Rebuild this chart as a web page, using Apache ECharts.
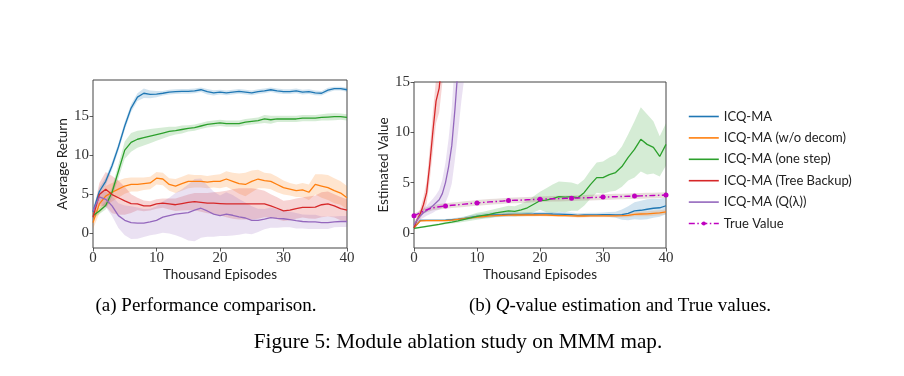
<!DOCTYPE html>
<html>
<head>
<meta charset="utf-8">
<title>Module ablation study on MMM map</title>
<script src="https://cdn.jsdelivr.net/npm/echarts@6/dist/echarts.min.js"></script>
<style>
html, body { margin: 0; padding: 0; background: #fff; }
#chart { width: 904px; height: 376px; }
</style>
</head>
<body>
<div id="chart"></div>
<script>
// x positions, thousand episodes
var episodes = [0, 1, 2, 3, 4, 5, 6, 7, 8, 9, 10, 11, 12, 13, 14, 15, 16, 17, 18, 19, 20,
                21, 22, 23, 24, 25, 26, 27, 28, 29, 30, 31, 32, 33, 34, 35, 36, 37, 38, 39, 40];
var yTicks = [0, 5, 10, 15];

var names = ['ICQ-MA', 'ICQ-MA (w/o decom)', 'ICQ-MA (one step)', 'ICQ-MA (Tree Backup)', 'ICQ-MA (Q(\u03bb))', 'True Value'];

// (a) average return, mean and spread
var retMA = [2.7, 5.3, 6.6, 8.6, 11.0, 13.7, 16.0, 17.4, 17.9, 17.75, 17.8, 17.9, 18.05, 18.1, 18.15, 18.15, 18.2, 18.35, 18.1, 17.95, 18.05,
             17.95, 18.05, 18.15, 18.05, 17.95, 18.1, 18.2, 18.35, 18.2, 18.1, 18.1, 18.2, 18.05, 18.1, 17.95, 17.9, 18.3, 18.5, 18.5, 18.35];
var retMASd = [0.4, 0.5, 0.5, 0.5, 0.5, 0.5, 0.5, 0.5, 0.6, 0.5, 0.4, 0.3, 0.3, 0.3, 0.3, 0.3, 0.3, 0.3, 0.35, 0.35, 0.3,
               0.3, 0.3, 0.3, 0.3, 0.3, 0.3, 0.3, 0.3, 0.3, 0.3, 0.3, 0.3, 0.3, 0.3, 0.3, 0.3, 0.3, 0.25, 0.25, 0.25];
var retNoDecom = [1.3, 3.7, 4.7, 5.2, 5.6, 6.0, 6.2, 6.2, 6.3, 6.4, 7.0, 6.9, 6.2, 6.0, 6.3, 6.6, 6.6, 6.6, 6.5, 6.6, 6.6,
                  6.9, 6.6, 6.3, 6.2, 6.6, 6.9, 6.7, 6.6, 6.2, 5.8, 5.6, 5.4, 5.5, 5.2, 6.2, 6.0, 5.8, 5.4, 5.1, 4.5];
var retNoDecomSd = [0.8, 1.2, 1.3, 1.2, 1.1, 1.0, 0.9, 0.9, 0.8, 0.8, 0.8, 0.8, 0.8, 0.9, 0.9, 0.9, 0.8, 0.8, 0.8, 0.8, 0.9,
                    1.0, 1.1, 1.3, 1.5, 1.4, 1.2, 1.0, 1.0, 1.0, 0.9, 0.8, 0.8, 0.9, 1.0, 1.3, 1.5, 1.6, 1.6, 1.5, 1.5];
var retOneStep = [2.2, 2.8, 3.5, 5.2, 7.9, 10.6, 11.6, 12.0, 12.2, 12.4, 12.6, 12.8, 13.0, 13.1, 13.25, 13.4, 13.5, 13.7, 13.9, 14.0, 14.1,
                  14.0, 14.0, 14.0, 14.2, 14.3, 14.4, 14.6, 14.5, 14.6, 14.6, 14.6, 14.6, 14.7, 14.7, 14.7, 14.8, 14.85, 14.9, 14.9, 14.8];
var retOneStepSd = [0.4, 0.4, 0.5, 0.6, 0.9, 1.1, 1.2, 1.1, 1.0, 0.9, 0.8, 0.7, 0.6, 0.5, 0.5, 0.4, 0.4, 0.4, 0.4, 0.4, 0.4,
                    0.4, 0.4, 0.4, 0.4, 0.4, 0.4, 0.5, 0.5, 0.4, 0.4, 0.4, 0.4, 0.4, 0.4, 0.4, 0.4, 0.45, 0.45, 0.4, 0.4];
var retTree = [2.0, 4.9, 5.6, 4.9, 4.5, 4.1, 3.75, 3.7, 3.45, 3.45, 3.7, 3.8, 3.7, 3.6, 3.75, 3.9, 4.0, 3.9, 3.8, 3.8, 3.75,
               3.7, 3.7, 3.7, 3.7, 3.7, 3.7, 3.7, 3.45, 3.15, 2.8, 2.9, 3.1, 3.25, 3.25, 3.3, 3.6, 3.7, 3.45, 3.1, 2.9];
var retTreeSd = [0.5, 1.5, 2.2, 2.4, 2.2, 1.8, 1.2, 0.8, 0.7, 0.6, 0.6, 0.6, 0.7, 0.8, 0.9, 1.0, 1.1, 1.2, 1.3, 1.4, 1.5,
                 1.7, 1.9, 2.0, 2.0, 2.0, 1.9, 1.7, 1.5, 1.4, 1.3, 1.3, 1.3, 1.3, 1.4, 1.5, 1.6, 1.6, 1.5, 1.5, 1.4];
var retQLam = [2.8, 4.6, 4.3, 3.45, 2.2, 1.6, 1.3, 1.25, 1.25, 1.4, 1.6, 2.0, 2.2, 2.4, 2.5, 2.6, 2.9, 3.15, 2.8, 2.4, 2.2,
               2.4, 2.25, 2.05, 1.9, 1.6, 1.6, 1.75, 1.95, 1.85, 1.8, 1.7, 1.55, 1.45, 1.4, 1.4, 1.3, 1.3, 1.4, 1.45, 1.45];
var retQLamSd = [0.5, 0.8, 1.0, 1.3, 1.6, 1.9, 2.1, 2.0, 1.8, 1.7, 1.8, 2.0, 2.3, 2.7, 3.1, 3.6, 4.0, 3.8, 3.3, 2.9, 2.6,
                 2.8, 2.6, 2.3, 2.0, 1.8, 1.5, 1.3, 1.3, 1.2, 1.1, 1.0, 1.0, 0.9, 0.9, 0.9, 0.8, 0.8, 0.7, 0.7, 0.7];

// (b) estimated Q value
var qMA = [0.5, 1.25, 1.25, 1.25, 1.25, 1.28, 1.32, 1.38, 1.45, 1.55, 1.65, 1.7, 1.78, 1.8, 1.82, 1.85, 1.85, 1.85, 1.87, 1.88, 1.9,
           1.9, 1.88, 1.87, 1.85, 1.82, 1.75, 1.78, 1.8, 1.8, 1.82, 1.82, 1.8, 1.82, 1.95, 2.2, 2.25, 2.35, 2.45, 2.5, 2.7];
var qMASd = [0.1, 0.1, 0.1, 0.1, 0.1, 0.1, 0.12, 0.15, 0.18, 0.2, 0.22, 0.25, 0.25, 0.25, 0.25, 0.25, 0.22, 0.2, 0.2, 0.2, 0.2,
             0.2, 0.2, 0.2, 0.2, 0.2, 0.2, 0.2, 0.2, 0.2, 0.2, 0.25, 0.3, 0.5, 0.7, 0.85, 0.95, 1.0, 0.95, 0.9, 0.85];
var qNoDecom = [0.5, 1.2, 1.22, 1.22, 1.22, 1.22, 1.28, 1.35, 1.42, 1.5, 1.58, 1.63, 1.7, 1.72, 1.75, 1.77, 1.78, 1.78, 1.78, 1.78, 1.8,
                1.78, 1.75, 1.72, 1.72, 1.7, 1.68, 1.68, 1.7, 1.7, 1.7, 1.7, 1.7, 1.72, 1.75, 1.85, 1.88, 1.9, 1.95, 2.0, 2.1];
var qNoDecomSd = [0.08, 0.08, 0.08, 0.08, 0.08, 0.08, 0.1, 0.1, 0.12, 0.12, 0.15, 0.15, 0.15, 0.15, 0.15, 0.15, 0.15, 0.15, 0.15, 0.15, 0.15,
                  0.15, 0.15, 0.15, 0.15, 0.15, 0.15, 0.15, 0.15, 0.15, 0.15, 0.15, 0.15, 0.18, 0.2, 0.2, 0.22, 0.25, 0.25, 0.25, 0.25];
var qOneStep = [0.45, 0.55, 0.65, 0.75, 0.85, 0.97, 1.08, 1.2, 1.35, 1.5, 1.65, 1.75, 1.85, 2.0, 2.1, 2.2, 2.15, 2.3, 2.5, 2.85, 3.2,
                3.25, 3.4, 3.6, 3.55, 3.6, 3.5, 4.0, 4.8, 5.5, 5.5, 5.8, 6.0, 6.6, 7.5, 8.3, 9.3, 8.8, 8.5, 7.6, 8.8];
var qOneStepSd = [0.08, 0.08, 0.08, 0.1, 0.1, 0.12, 0.15, 0.2, 0.25, 0.3, 0.35, 0.35, 0.4, 0.4, 0.45, 0.5, 0.5, 0.6, 0.7, 0.8, 0.9,
                  1.2, 1.4, 1.5, 1.5, 1.4, 1.3, 1.3, 1.4, 1.5, 1.6, 1.7, 1.8, 2.0, 2.3, 2.8, 3.2, 3.0, 2.6, 2.0, 2.1];
var qTrue = [1.7, 2.0, 2.3, 2.5, 2.6, 2.68, 2.75, 2.8, 2.86, 2.92, 2.98, 3.03, 3.08, 3.12, 3.16, 3.22, 3.24, 3.26, 3.29, 3.32, 3.35,
             3.37, 3.39, 3.41, 3.43, 3.45, 3.47, 3.49, 3.51, 3.53, 3.56, 3.58, 3.6, 3.62, 3.64, 3.66, 3.68, 3.7, 3.72, 3.74, 3.77];
var qTrueSd = [0.2, 0.25, 0.25, 0.25, 0.28, 0.28, 0.28, 0.28, 0.28, 0.28, 0.28, 0.28, 0.28, 0.28, 0.28, 0.28, 0.28, 0.28, 0.28, 0.28, 0.28,
               0.28, 0.28, 0.28, 0.28, 0.28, 0.28, 0.28, 0.28, 0.28, 0.28, 0.28, 0.28, 0.28, 0.28, 0.28, 0.28, 0.28, 0.28, 0.28, 0.28];
// the two diverging runs are read on a finer x grid
var treeX = [0, 0.5, 1, 1.5, 2, 2.5, 3, 3.5, 4, 4.5, 5];
var qTree = [0.5, 1.3, 1.9, 2.8, 4.0, 6.8, 10.1, 13.1, 14.4, 17.5, 20];
var qTreeSd = [0.3, 0.4, 0.5, 0.8, 1.1, 1.6, 2.0, 2.2, 2.4, 2.6, 2.8];
var qlamX = [0, 0.5, 1, 1.5, 2, 2.5, 3, 3.5, 4, 4.5, 5, 5.5, 6, 6.5, 7, 7.5, 8];
var qQLam = [0.8, 1.3, 1.7, 2.0, 2.2, 2.45, 2.7, 3.0, 3.3, 3.9, 5.0, 6.6, 8.7, 12.3, 16.5, 20.5, 24.5];
var qQLamSd = [0.2, 0.3, 0.4, 0.5, 0.5, 0.6, 0.7, 0.8, 1.0, 1.4, 2.0, 2.8, 3.8, 5.0, 6.5, 7.5, 9.0];

var C = ['#1f77b4', '#ff7f0e', '#2ca02c', '#d62728', '#9467bd'];
var BAND = ['rgba(31,119,180,0.2)', 'rgba(255,127,14,0.2)', 'rgba(44,160,44,0.2)', 'rgba(214,39,40,0.2)', 'rgba(148,103,189,0.2)'];
var TRUE_COLOR = '#bf00bf';
var TRUE_BAND = 'rgba(140,86,75,0.2)';
var SANS = 'Lato, "DejaVu Sans", sans-serif';
var SERIF = '"Liberation Serif", serif';
var INK = '#333';

function pairs(xs, ys) {
    return xs.map(function (x, i) { return [x, ys[i]]; });
}

// shaded mean +- spread, drawn as one polygon clipped to the grid
function band(xs, mean, sd, color, k) {
    var rows = xs.map(function (x, i) { return [x, mean[i] - sd[i], mean[i] + sd[i]]; });
    return {
        type: 'custom', xAxisIndex: k, yAxisIndex: k, silent: true, z: 1, clip: true,
        data: rows, encode: { x: 0, y: [1, 2] },
        renderItem: function (params, api) {
            if (params.dataIndex !== 0) return null;
            var top = rows.map(function (r) { return api.coord([r[0], r[2]]); });
            var bot = rows.map(function (r) { return api.coord([r[0], r[1]]); }).reverse();
            var cs = params.coordSys;
            return {
                type: 'polygon', shape: { points: top.concat(bot) }, style: { fill: color },
                clipPath: { type: 'rect', shape: { x: cs.x, y: cs.y, width: cs.width, height: cs.height } }
            };
        }
    };
}

function line(name, xs, ys, color, k) {
    return {
        name: name, type: 'line', xAxisIndex: k, yAxisIndex: k, data: pairs(xs, ys),
        symbol: 'none', lineStyle: { color: color, width: 1.3 }, itemStyle: { color: color }, z: 3
    };
}

function xAxis(k) {
    return {
        type: 'value', gridIndex: k, min: 0, max: 40, interval: 10,
        name: 'Thousand Episodes', nameLocation: 'middle', nameGap: 20,
        nameTextStyle: { fontFamily: SANS, fontSize: 13.5, color: '#222' },
        axisLine: { show: false, onZero: false },
        axisTick: { show: true, length: 3.5, lineStyle: { color: INK, width: 0.8 } },
        axisLabel: { fontFamily: SERIF, fontSize: 15, color: INK, margin: 3 },
        splitLine: { show: false }
    };
}

function yAxis(k, min, max, title) {
    return {
        type: 'value', gridIndex: k, min: min, max: max,
        name: title, nameLocation: 'middle', nameGap: 23,
        nameTextStyle: { fontFamily: SANS, fontSize: 13.5, color: '#222' },
        axisLine: { show: false, onZero: false },
        axisTick: { show: true, length: 3.5, customValues: yTicks, lineStyle: { color: INK, width: 0.8 } },
        axisLabel: { fontFamily: SERIF, fontSize: 15, color: INK, margin: 4, customValues: yTicks },
        splitLine: { show: false }
    };
}

var series = [
    band(episodes, retMA, retMASd, BAND[0], 0),
    band(episodes, retNoDecom, retNoDecomSd, BAND[1], 0),
    band(episodes, retOneStep, retOneStepSd, BAND[2], 0),
    band(episodes, retTree, retTreeSd, BAND[3], 0),
    band(episodes, retQLam, retQLamSd, BAND[4], 0),
    band(episodes, qMA, qMASd, BAND[0], 1),
    band(episodes, qNoDecom, qNoDecomSd, BAND[1], 1),
    band(episodes, qOneStep, qOneStepSd, BAND[2], 1),
    band(treeX, qTree, qTreeSd, BAND[3], 1),
    band(qlamX, qQLam, qQLamSd, BAND[4], 1),
    band(episodes, qTrue, qTrueSd, TRUE_BAND, 1),
    line(names[0], episodes, retMA, C[0], 0),
    line(names[1], episodes, retNoDecom, C[1], 0),
    line(names[2], episodes, retOneStep, C[2], 0),
    line(names[3], episodes, retTree, C[3], 0),
    line(names[4], episodes, retQLam, C[4], 0),
    line(names[0], episodes, qMA, C[0], 1),
    line(names[1], episodes, qNoDecom, C[1], 1),
    line(names[2], episodes, qOneStep, C[2], 1),
    line(names[3], treeX, qTree, C[3], 1),
    line(names[4], qlamX, qQLam, C[4], 1),
    {
        name: names[5], type: 'line', xAxisIndex: 1, yAxisIndex: 1, data: pairs(episodes, qTrue),
        symbol: 'circle', showSymbol: true,
        symbolSize: function (v, p) { return p.dataIndex % 5 === 0 ? 5 : 0; },
        lineStyle: { color: TRUE_COLOR, width: 1.4, type: [6, 2.5, 1.5, 2.5] },
        itemStyle: { color: TRUE_COLOR }, z: 4
    }
];

// legend: plain strokes for the five runs, stroke plus dot for the true value
var legendData = names.map(function (n, i) {
    return i < 5 ? { name: n, itemStyle: { opacity: 0 } } : { name: n };
});

var chart = echarts.init(document.getElementById('chart'), null, { renderer: 'canvas' });
chart.setOption({
    animation: false,
    backgroundColor: '#fff',
    grid: [
        { left: 93, top: 80, width: 254, height: 168, show: true, borderColor: '#444', borderWidth: 1, backgroundColor: 'transparent' },
        { left: 414, top: 82, width: 252, height: 166, show: true, borderColor: '#444', borderWidth: 1, backgroundColor: 'transparent' }
    ],
    xAxis: [xAxis(0), xAxis(1)],
    yAxis: [yAxis(0, -1.95, 19.6, 'Average Return'), yAxis(1, -1.5, 15, 'Estimated Value')],
    legend: {
        data: legendData, orient: 'vertical', left: 683, top: 105,
        itemWidth: 30, itemHeight: 5, itemGap: 8.4,
        lineStyle: { width: 1.6 },
        textStyle: { fontFamily: SANS, fontSize: 13, lineHeight: 12, color: '#222', padding: 0 }
    },
    graphic: [
        { type: 'text', x: 206, y: 306, style: { text: '(a) Performance comparison.', fontFamily: SERIF, fontSize: 19, fill: '#000', align: 'center', verticalAlign: 'middle' } },
        { type: 'text', x: 620, y: 306, style: { text: '(b) {i|Q}-value estimation and True values.', fontFamily: SERIF, fontSize: 19, fill: '#000', align: 'center', verticalAlign: 'middle',
            rich: { i: { fontFamily: SERIF, fontSize: 19, fontStyle: 'italic', fill: '#000' } } } },
        { type: 'text', x: 458, y: 342, style: { text: 'Figure 5: Module ablation study on MMM map.', fontFamily: SERIF, fontSize: 21.2, fill: '#000', align: 'center', verticalAlign: 'middle' } }
    ],
    series: series
});
</script>
</body>
</html>
